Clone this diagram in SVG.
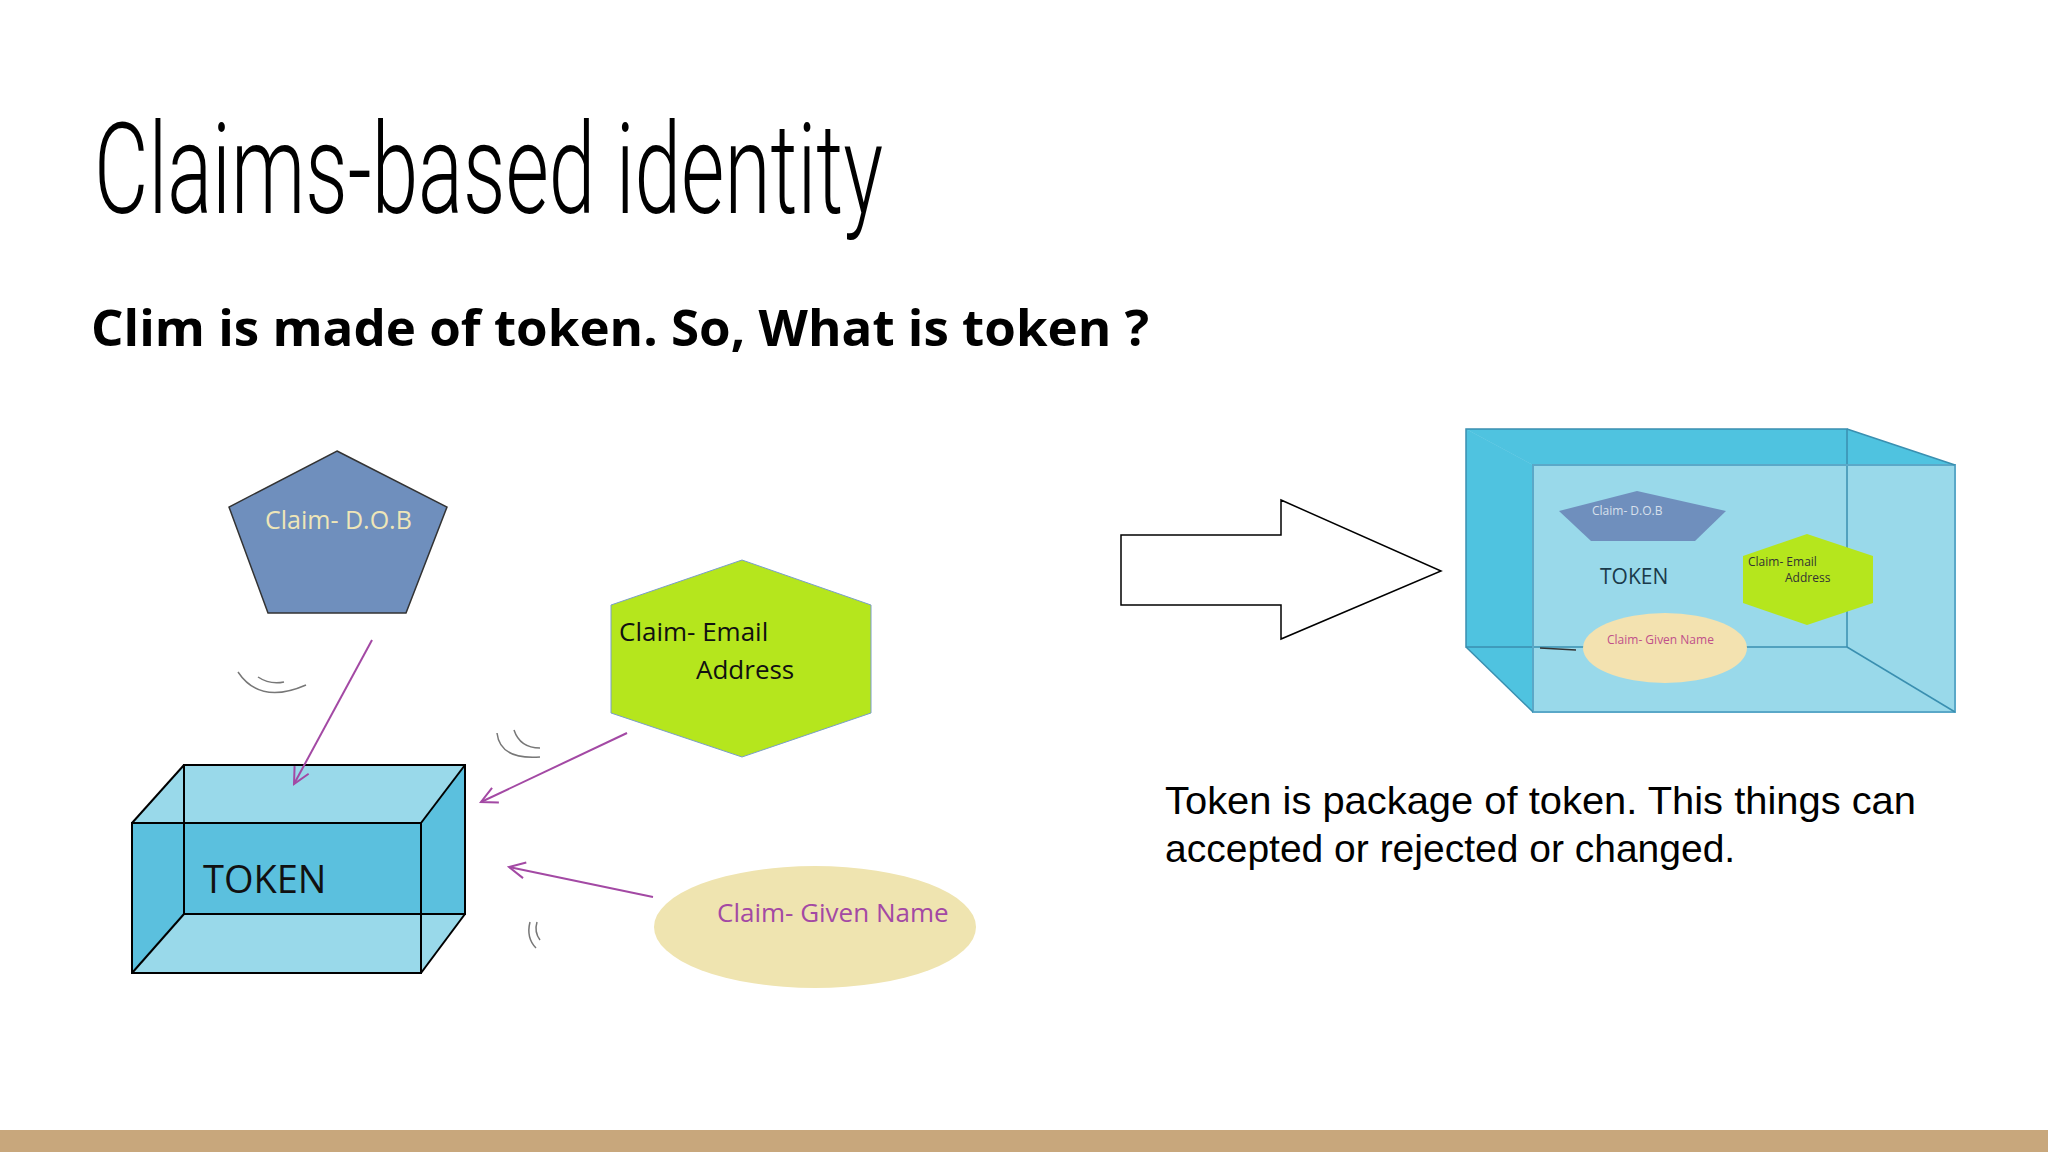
<svg xmlns="http://www.w3.org/2000/svg" width="2048" height="1152" viewBox="0 0 2048 1152">
<style>
.ln{stroke:#000;stroke-width:2;fill:none}
.arr{stroke:#a349a4;stroke-width:2;fill:none}
.arc{stroke:#777;stroke-width:1.5;fill:none}
.cal{font-family:"Open Sans","Liberation Sans",sans-serif}
</style>
<defs>
<marker id="ah" viewBox="0 0 20 20" refX="18" refY="10" markerWidth="20" markerHeight="20" markerUnits="userSpaceOnUse" orient="auto">
<path d="M2,2 L18,10 L2,18" stroke="#a349a4" stroke-width="2" fill="none"/>
</marker>
</defs>
<rect width="2048" height="1152" fill="#fff"/>
<rect x="0" y="1130" width="2048" height="22" fill="#c8a77c"/>
<text x="94" y="213" font-family="Roboto,'Liberation Sans',sans-serif" font-weight="300" font-size="126" textLength="789" lengthAdjust="spacingAndGlyphs" fill="#000">Claims-based identity</text>
<text x="91" y="346" font-family="'Open Sans','Liberation Sans',sans-serif" font-weight="700" font-size="50" textLength="1058" lengthAdjust="spacingAndGlyphs" fill="#000">Clim is made of token. So, What is token ?</text>

<g id="claim-dob">
<polygon points="337,451 447,507 406,613 268,613 229,507" fill="#6f8fbd" stroke="#333" stroke-width="1.5"/>
<text x="265" y="529" class="cal" font-size="25" fill="#eee6b8">Claim- D.O.B</text>
</g>
<g id="claim-email">
<polygon points="742,560 871,605 871,713 742,757 611,713 611,605" fill="#b5e61d" stroke="#7a9ec8" stroke-width="1"/>
<text x="619" y="641" class="cal" font-size="26" fill="#111">Claim- Email</text>
<text x="696" y="679" class="cal" font-size="26" fill="#111">Address</text>
</g>
<g id="claim-name">
<ellipse cx="815" cy="927" rx="161" ry="61" fill="#efe4b0"/>
<text x="717" y="922" class="cal" font-size="26" fill="#a349a4">Claim- Given Name</text>
</g>
<g id="token-box">
<polygon points="132,823 184,765 465,765 465,914 421,973 132,973" fill="#5bc0de"/>
<polygon points="132,823 184,765 465,765 421,823" fill="#99d9ea"/>
<polygon points="132,973 184,914 465,914 421,973" fill="#99d9ea"/>
<rect class="ln" x="184" y="765" width="281" height="149"/>
<rect class="ln" x="132" y="823" width="289" height="150"/>
<line class="ln" x1="132" y1="823" x2="184" y2="765"/>
<line class="ln" x1="421" y1="823" x2="465" y2="765"/>
<line class="ln" x1="132" y1="973" x2="184" y2="914"/>
<line class="ln" x1="421" y1="973" x2="465" y2="914"/>
<text x="203" y="893" class="cal" font-size="38" fill="#111">TOKEN</text>
</g>

<g id="token-package">
<polygon points="1466,429 1847,429 1955,465 1955,712 1533,712 1466,647" fill="#99d9ea"/>
<polygon points="1466,429 1847,429 1955,465 1533,465" fill="#4fc3e0"/>
<polygon points="1466,429 1533,465 1533,712 1466,647" fill="#4fc3e0"/>
<rect x="1466" y="429" width="381" height="218" fill="none" stroke="#3a8fb0" stroke-width="1.5"/>
<rect x="1533" y="465" width="422" height="247" fill="none" stroke="#5aa8c8" stroke-width="2"/>
<line x1="1847" y1="429" x2="1955" y2="465" stroke="#3a8fb0" stroke-width="1.5"/>
<line x1="1847" y1="647" x2="1955" y2="712" stroke="#3a8fb0" stroke-width="1.5"/>
<line x1="1466" y1="647" x2="1533" y2="712" stroke="#3a8fb0" stroke-width="1.5"/>
<polygon points="1637,491 1726,511 1695,541 1591,541 1559,511" fill="#6f8fbd"/>
<text x="1592" y="515" class="cal" font-size="12" fill="#d8e0ec">Claim- D.O.B</text>
<polygon points="1807,534 1873,556 1873,603 1807,625 1743,603 1743,556" fill="#b5e61d"/>
<text x="1748" y="566" class="cal" font-size="12" fill="#333">Claim- Email</text>
<text x="1785" y="582" class="cal" font-size="12" fill="#333">Address</text>
<text x="1600" y="584" class="cal" font-size="21" fill="#1a3a4a">TOKEN</text>
<line x1="1540" y1="648" x2="1576" y2="650" stroke="#333" stroke-width="1.5"/>
<ellipse cx="1665" cy="648" rx="82" ry="35" fill="#f3e2b0"/>
<text x="1607" y="644" class="cal" font-size="12" fill="#c0508a">Claim- Given Name</text>
</g>

<g id="connectors">
<line class="arr" x1="372" y1="640" x2="294" y2="784" marker-end="url(#ah)"/>
<line class="arr" x1="627" y1="733" x2="481" y2="802" marker-end="url(#ah)"/>
<line class="arr" x1="653" y1="897" x2="509" y2="867" marker-end="url(#ah)"/>
<path class="arc" d="M238,672 Q260,705 306,685"/>
<path class="arc" d="M258,677 Q270,685 284,682"/>
<path class="arc" d="M497,733 Q500,760 540,757"/>
<path class="arc" d="M514,730 Q520,748 540,748"/>
<path class="arc" d="M530,922 Q526,938 536,948"/>
<path class="arc" d="M537,922 Q534,932 540,940"/>
<polygon points="1121,535 1281,535 1281,500 1441,571 1281,639 1281,605 1121,605" fill="#fff" stroke="#000" stroke-width="1.5"/>
</g>

<g id="caption" font-family="'Liberation Sans',Arial,sans-serif" font-size="39" fill="#000">
<text x="1165" y="814" textLength="751" lengthAdjust="spacingAndGlyphs">Token is package of token. This things can</text>
<text x="1165" y="862">accepted or rejected or changed.</text>
</g>
</svg>
